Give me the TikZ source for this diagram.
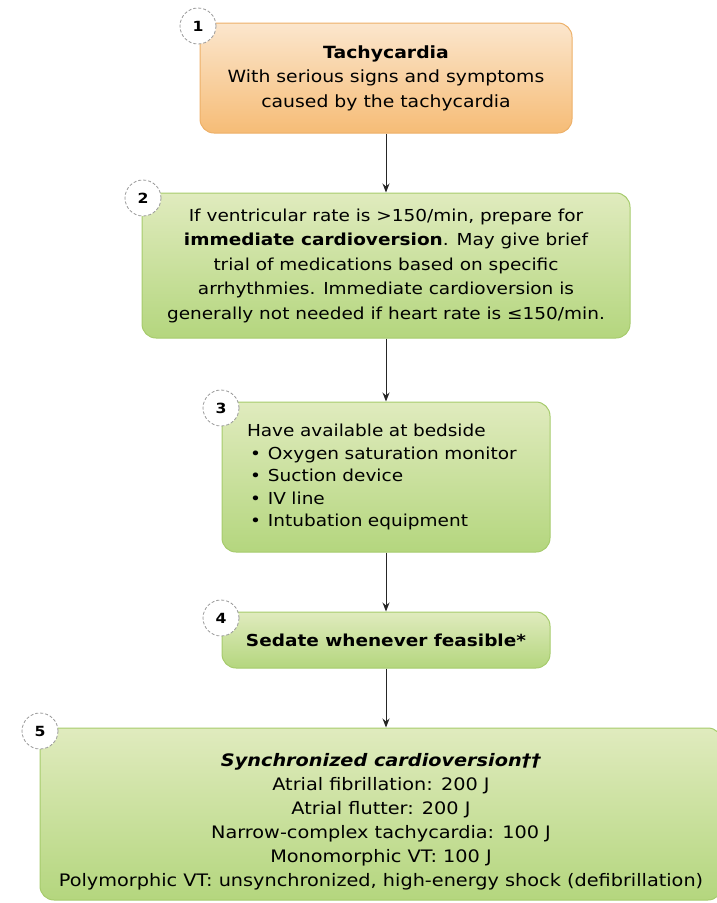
\documentclass[tikz,border=0pt]{standalone}
\usepackage{fontspec}
\setmainfont{DejaVu Sans}[FakeStretch=1.12]
\usetikzlibrary{arrows.meta}
\definecolor{orangetop}{HTML}{FBE6CD}
\definecolor{orangebot}{HTML}{F6BC76}
\definecolor{orangeline}{HTML}{EDB068}
\definecolor{greentop}{HTML}{E0EBBE}
\definecolor{greenbot}{HTML}{B4D67E}
\definecolor{greenline}{HTML}{A6CB6C}

\begin{document}
\begin{tikzpicture}[x=1pt, y=-1pt,
    stepbox/.style={draw=greenline, line width=1pt, rounded corners=14pt,
      top color=greentop, bottom color=greenbot, inner sep=0pt},
    startbox/.style={stepbox, draw=orangeline, top color=orangetop, bottom color=orangebot},
    stepnum/.style={circle, draw=black!40, densely dashed, line width=0.8pt, fill=white,
      minimum size=36pt, inner sep=0pt, font=\fontsize{14}{14}\selectfont\bfseries},
    arr/.style={-{Stealth[length=9pt, width=7pt]}, line width=1pt, black!85}]
      \newcommand\BODY{\fontsize{16.5}{24.5}\selectfont}

      \useasboundingbox (0,0) rectangle (717,903);

      \node[startbox, minimum width=372pt, minimum height=110pt, align=center,
        font=\fontsize{16.8}{24.5}\selectfont] (tachy) at (386,78)
        {\textbf{Tachycardia}\\With serious signs and symptoms\\caused by the tachycardia};

      \node[stepbox, minimum width=488pt, minimum height=145pt, align=center,
        font=\BODY] (prepare) at (386,265.5)
        {If ventricular rate is >150/min, prepare for\\
         \textbf{immediate cardioversion}. May give brief\\
         trial of medications based on specific\\
         arrhythmies. Immediate cardioversion is\\
         generally not needed if heart rate is ≤150/min.};

      \node[stepbox, minimum width=328pt, minimum height=150pt, text width=278pt, align=left,
        font=\fontsize{16.5}{22.5}\selectfont] (bedside) at (386,477)
        {Have available at bedside\\
         \hspace*{3pt}\textbullet\hspace{7pt}Oxygen saturation monitor\\
         \hspace*{3pt}\textbullet\hspace{7pt}Suction device\\
         \hspace*{3pt}\textbullet\hspace{7pt}IV line\\
         \hspace*{3pt}\textbullet\hspace{7pt}Intubation equipment};

      \node[stepbox, minimum width=328pt, minimum height=56pt,
        font=\BODY] (sedate) at (386,640)
        {\textbf{Sedate whenever feasible*}};

      \node[stepbox, minimum width=682pt, minimum height=172pt, align=center,
        font=\fontsize{17.2}{24}\selectfont] (cardio) at (381,814)
        {\rule{0pt}{28pt}\textbf{\textit{Synchronized cardioversion††}}\\
         Atrial fibrillation: 200 J\\
         Atrial flutter: 200 J\\
         Narrow-complex tachycardia: 100 J\\
         Monomorphic VT: 100 J\\
         Polymorphic VT: unsynchronized, high-energy shock (defibrillation)};

      \node[stepnum] (n1) at (198,26) {1};
      \node[stepnum] (n2) at (143,198) {2};
      \node[stepnum] (n3) at (221,408) {3};
      \node[stepnum] (n4) at (221,618) {4};
      \node[stepnum] (n5) at (40,731) {5};

      \draw[arr] (tachy) -- (prepare);
      \draw[arr] (prepare) -- (bedside);
      \draw[arr] (bedside) -- (sedate);
      \draw[arr] (sedate) -- (sedate.south |- cardio.north);

    \end{tikzpicture}
\end{document}
